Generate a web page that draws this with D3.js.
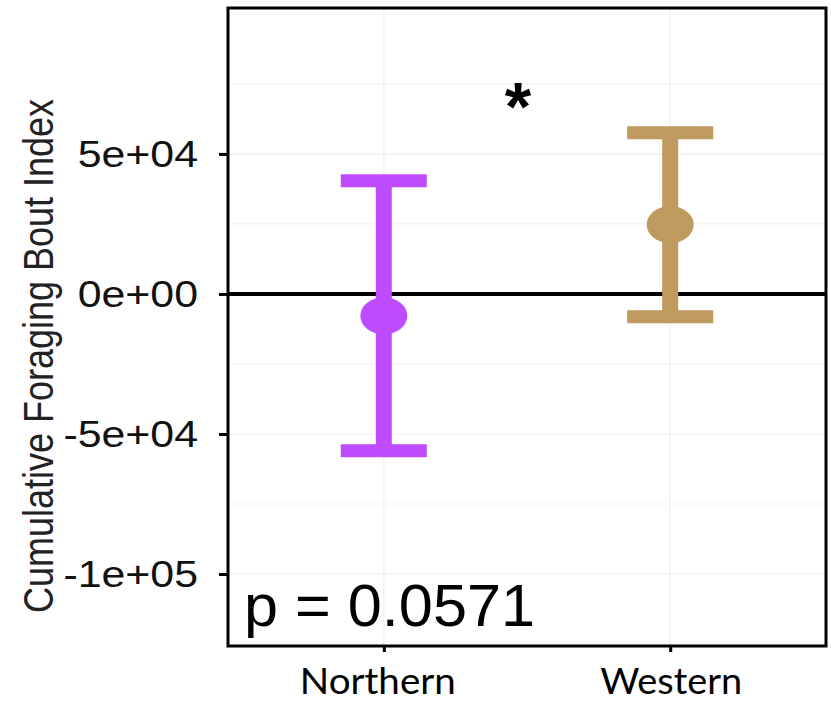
<!DOCTYPE html>
<html>
<head>
<meta charset="utf-8">
<script src="https://cdn.jsdelivr.net/npm/d3@7"></script>
<style>
  html, body { margin: 0; padding: 0; background: #ffffff; }
  svg { display: block; }
</style>
</head>
<body>
<svg id="chart" width="831" height="703"></svg>
<script>
// Group means with their error half-widths (cumulative foraging bout index)
const regions = ["Northern", "Western"];
const means = [-7800, 24750];
const errors = [48200, 32850];
const colors = ["#BF4BFE", "#BF9A5E"];

const yTicks = [-100000, -50000, 0, 50000];
const yTickLabels = ["-1e+05", "-5e+04", "0e+00", "5e+04"];
const yMinorGrid = [-75000, -25000, 25000, 75000];
const yDomain = [-125700, 102100];

const yTitle = "Cumulative Foraging Bout Index";
const pLabel = "p = 0.0571";
const sigMark = "*";

const W = 831, H = 703;
const panel = { left: 228, right: 826, top: 8, bottom: 646 };
const hStretch = 1.19; // horizontal widening of the axis text

const svg = d3.select("#chart");

const x = d3.scalePoint()
  .domain(regions)
  .range([panel.left, panel.right])
  .padding(0.544);

const y = d3.scaleLinear()
  .domain(yDomain)
  .range([panel.bottom, panel.top]);

// faint grid lines
const grid = svg.append("g").attr("stroke", "#f3f3f3").attr("stroke-width", 1.2);
grid.selectAll("line.minor").data(yMinorGrid).join("line")
  .attr("class", "minor")
  .attr("x1", panel.left).attr("x2", panel.right)
  .attr("y1", d => y(d)).attr("y2", d => y(d));
grid.selectAll("line.major").data(yTicks).join("line")
  .attr("class", "major")
  .attr("stroke-width", 1.6)
  .attr("x1", panel.left).attr("x2", panel.right)
  .attr("y1", d => y(d)).attr("y2", d => y(d));
grid.selectAll("line.vert").data(regions).join("line")
  .attr("class", "vert")
  .attr("stroke-width", 1.6)
  .attr("x1", d => x(d)).attr("x2", d => x(d))
  .attr("y1", panel.top).attr("y2", panel.bottom);

// zero reference line
svg.append("line")
  .attr("x1", panel.left).attr("x2", panel.right)
  .attr("y1", y(0)).attr("y2", y(0))
  .attr("stroke", "#000").attr("stroke-width", 4);

// error bars
const capHalf = 43;
const bars = svg.append("g").selectAll("g").data(regions).join("g");
bars.append("line")
  .attr("x1", d => x(d)).attr("x2", d => x(d))
  .attr("y1", (d, i) => y(means[i] + errors[i]))
  .attr("y2", (d, i) => y(means[i] - errors[i]))
  .attr("stroke", (d, i) => colors[i]).attr("stroke-width", 16);
bars.append("line")
  .attr("x1", d => x(d) - capHalf).attr("x2", d => x(d) + capHalf)
  .attr("y1", (d, i) => y(means[i] + errors[i]))
  .attr("y2", (d, i) => y(means[i] + errors[i]))
  .attr("stroke", (d, i) => colors[i]).attr("stroke-width", 13);
bars.append("line")
  .attr("x1", d => x(d) - capHalf).attr("x2", d => x(d) + capHalf)
  .attr("y1", (d, i) => y(means[i] - errors[i]))
  .attr("y2", (d, i) => y(means[i] - errors[i]))
  .attr("stroke", (d, i) => colors[i]).attr("stroke-width", 13);
bars.append("ellipse")
  .attr("cx", d => x(d))
  .attr("cy", (d, i) => y(means[i]))
  .attr("rx", 23.5).attr("ry", 18.5)
  .attr("fill", (d, i) => colors[i]);

// panel border
svg.append("rect")
  .attr("x", panel.left).attr("y", panel.top)
  .attr("width", panel.right - panel.left)
  .attr("height", panel.bottom - panel.top)
  .attr("fill", "none").attr("stroke", "#000").attr("stroke-width", 3);

// y axis
const yAxis = svg.append("g")
  .attr("transform", `translate(${panel.left},0)`)
  .call(d3.axisLeft(y)
    .tickValues(yTicks)
    .tickFormat((d, i) => yTickLabels[i])
    .tickSize(9)
    .tickPadding(21));
yAxis.select(".domain").remove();
yAxis.selectAll(".tick line").attr("stroke", "#000").attr("stroke-width", 3);
yAxis.selectAll(".tick text")
  .attr("font-family", "'Liberation Sans', Arial, sans-serif")
  .attr("font-size", 36)
  .attr("fill", "#111")
  .attr("dy", "0.36em")
  .each(function () {
    const w = this.getComputedTextLength();
    d3.select(this).attr("textLength", w * hStretch).attr("lengthAdjust", "spacingAndGlyphs");
  });

// x axis
const xAxis = svg.append("g")
  .attr("transform", `translate(0,${panel.bottom})`)
  .call(d3.axisBottom(x).tickSize(6).tickFormat(""));
xAxis.select(".domain").remove();
xAxis.selectAll(".tick line").attr("stroke", "#000").attr("stroke-width", 3);

const xLabelWidths = [156, 142];
const xLabelShift = [-6, 1];
svg.append("g").selectAll("text").data(regions).join("text")
  .attr("x", (d, i) => x(d) + xLabelShift[i])
  .attr("y", 694)
  .attr("text-anchor", "middle")
  .attr("font-family", "Lato, 'Open Sans', sans-serif")
  .attr("font-size", 36)
  .attr("fill", "#000")
  .attr("textLength", (d, i) => xLabelWidths[i])
  .attr("lengthAdjust", "spacingAndGlyphs")
  .text(d => d);

// y axis title, rotated and widened
svg.append("text")
  .attr("transform", `translate(53,356) scale(${hStretch},1) rotate(-90)`)
  .attr("text-anchor", "middle")
  .attr("font-family", "'Liberation Sans', Arial, sans-serif")
  .attr("font-size", 36)
  .attr("fill", "#222")
  .text(yTitle);

// significance marker
svg.append("text")
  .attr("x", (x(regions[0]) + x(regions[1])) / 2 - 9)
  .attr("y", 130)
  .attr("text-anchor", "middle")
  .attr("font-family", "'Liberation Sans', Arial, sans-serif")
  .attr("font-weight", "bold")
  .attr("font-size", 68)
  .attr("fill", "#000")
  .text(sigMark);

// p-value annotation
svg.append("text")
  .attr("x", 244)
  .attr("y", 626)
  .attr("font-family", "'Liberation Sans', Arial, sans-serif")
  .attr("font-size", 60)
  .attr("fill", "#000")
  .attr("textLength", 291)
  .attr("lengthAdjust", "spacingAndGlyphs")
  .text(pLabel);
</script>
</body>
</html>
